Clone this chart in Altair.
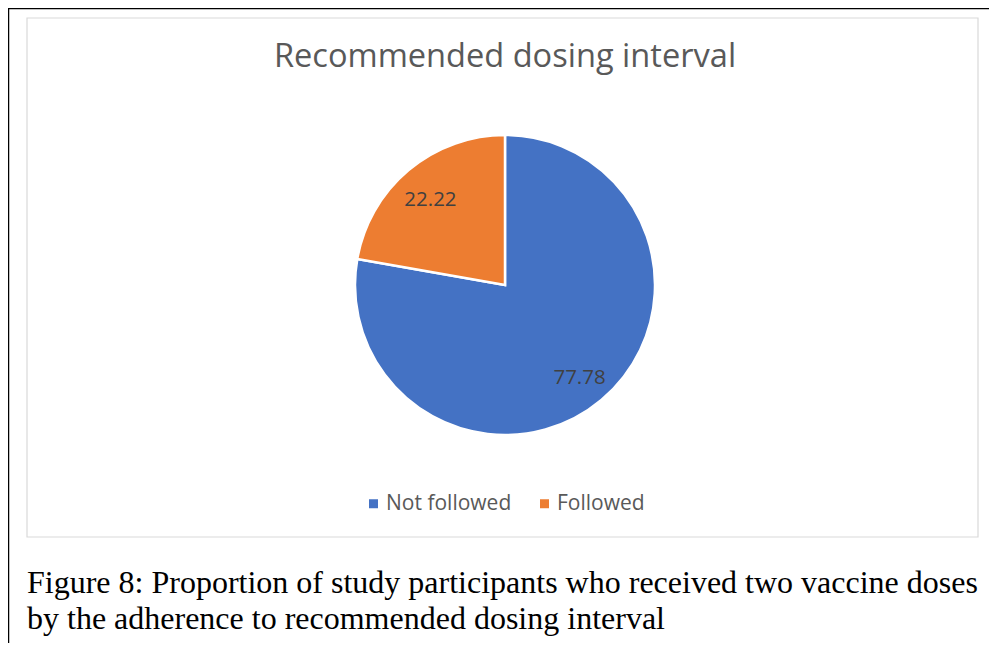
import altair as alt
import pandas as pd

# ---- data ----
categories = ["Not followed", "Followed"]
values = [77.78, 22.22]
colors = ["#4472C4", "#ED7D31"]
chart_title = "Recommended dosing interval"
caption_lines = [
    "Figure 8: Proportion of study participants who received two vaccine doses",
    "by the adherence to recommended dosing interval",
]

df = pd.DataFrame({"category": categories, "value": values,
                   "order": list(range(len(categories)))})

W, H = 981, 635
CX, CY, R = 497, 277, 150
one = alt.Data(values=[{}])

base = alt.Chart(df).encode(
    theta=alt.Theta("value:Q", stack=True),
    order=alt.Order("order:Q"),
)

pie = base.mark_arc(outerRadius=R, stroke="white", strokeWidth=2.5).encode(
    x=alt.value(CX), y=alt.value(CY),
    color=alt.Color("category:N", sort=categories,
                    scale=alt.Scale(domain=categories, range=colors),
                    legend=alt.Legend(title=None, orient="none", direction="horizontal",
                                      legendX=355, legendY=485,
                                      symbolType="square", symbolSize=81,
                                      symbolStrokeWidth=0,
                                      labelFont="Open Sans", labelFontSize=21,
                                      labelColor="#595959", labelOffset=2,
                                      columnPadding=22, labelLimit=300)),
)

labels = base.mark_text(radius=116, dy=4, font="Open Sans", fontSize=20.5,
                        color="#404040").encode(
    x=alt.value(CX), y=alt.value(CY),
    text=alt.Text("value:Q", format=".2f"),
)

frame = alt.Chart(one).mark_rect(fill=None, stroke="#D9D9D9", strokeWidth=1.2).encode(
    x=alt.value(19), x2=alt.value(970), y=alt.value(10), y2=alt.value(529))

top_line = alt.Chart(one).mark_rule(color="black", strokeWidth=2.5).encode(
    x=alt.value(0), x2=alt.value(W), y=alt.value(0))
left_line = alt.Chart(one).mark_rule(color="black", strokeWidth=2.5).encode(
    x=alt.value(0), y=alt.value(0), y2=alt.value(H))

title = alt.Chart(one).mark_text(text=chart_title, font="Open Sans", fontSize=32.6,
                                 color="#595959", align="center", baseline="alphabetic").encode(
    x=alt.value(497), y=alt.value(59))

cap1 = alt.Chart(one).mark_text(text=caption_lines[0], font="Liberation Serif", fontSize=32,
                                color="black", align="left", baseline="alphabetic").encode(
    x=alt.value(19), y=alt.value(585))
cap2 = alt.Chart(one).mark_text(text=caption_lines[1], font="Liberation Serif", fontSize=32,
                                color="black", align="left", baseline="alphabetic").encode(
    x=alt.value(19), y=alt.value(621))

chart = alt.layer(frame, top_line, left_line, title, pie, labels, cap1, cap2).properties(
    width=W, height=H, autosize=alt.AutoSizeParams(type="none"), padding=0,
    background="white",
).configure_view(stroke=None)

chart.save("out.html", embed_options={"renderer": "svg", "actions": False})
